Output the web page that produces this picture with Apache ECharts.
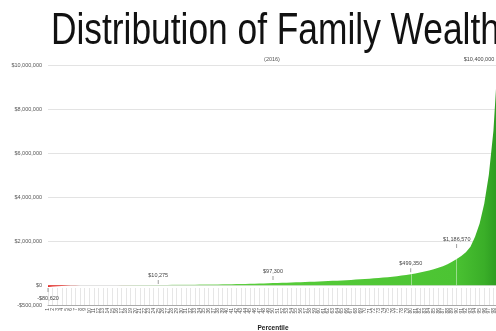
<!DOCTYPE html>
<html>
<head>
<meta charset="utf-8">
<script src="https://cdn.jsdelivr.net/npm/echarts@6/dist/echarts.min.js"></script>
<style>html,body{margin:0;padding:0;background:#fff}#c{width:496px;height:331px}</style>
</head>
<body>
<div id="c"></div>
<script>
const titleText = 'Distribution of Family Wealth';
const subtitleText = '(2016)';
const xAxisName = 'Percentile';
const percentiles = ['1','2','3','4','5','6','7','8','9','10','11','12','13','14','15','16','17','18','19','20',
  '21','22','23','24','25','26','27','28','29','30','31','32','33','34','35','36','37','38','39','40',
  '41','42','43','44','45','46','47','48','49','50','51','52','53','54','55','56','57','58','59','60',
  '61','62','63','64','65','66','67','68','69','70','71','72','73','74','75','76','77','78','79','80',
  '81','82','83','84','85','86','87','88','89','90','91','92','93','94','95','96','97','98','99'];
const wealth = [-80620,-60000,-45000,-33000,-24000,-17000,-12000,-8000,-5000,-2500,
  -800,50,400,850,1400,2000,2700,3400,4200,5000,
  5900,6900,7900,9050,10275,11500,12900,14400,16000,17700,
  19500,21400,23400,25500,27800,30200,32800,35500,38400,41500,
  45000,48800,52900,57300,62000,67500,73500,80500,88500,97300,
  103000,109000,115200,121700,128500,135600,143000,150800,159000,167600,
  176600,186000,196000,206500,217500,229000,241000,254000,267500,282000,
  297000,313000,330000,348000,364000,386000,410000,438000,468000,499350,
  535000,575000,620000,670000,725000,790000,865000,950000,1060000,1186570,
  1320000,1500000,1750000,2200000,2800000,3700000,5000000,7000000,10400000];
const annotatedPercentiles = ['1','25','50','80','90','99'];
const dropLinePercentiles = ['80','90'];
const yTickLabels = ['-$500,000','$0','$2,000,000','$4,000,000','$6,000,000','$8,000,000','$10,000,000'];
const yMin = -900000, yMax = 10000000;

function money(v){
  const s = Math.abs(v).toString().replace(/\B(?=(\d{3})+(?!\d))/g, ',');
  return (v < 0 ? '-$' : '$') + s;
}
function valueAt(p){ return wealth[percentiles.indexOf(p)]; }

const pinStyle = {
  '1':  {symbolOffset:[0,3], label:{position:'bottom', distance:4}},
  '25': {symbolOffset:[0,-3]},
  '50': {symbolOffset:[0,-5]},
  '80': {symbolOffset:[0,-4]},
  '90': {symbolOffset:[0,-13]},
  '99': {symbolSize:0, label:{position:'top', distance:3, offset:[-19,0]}}
};

const markData = annotatedPercentiles.map(p => {
  const v = valueAt(p);
  const st = pinStyle[p] || {};
  return Object.assign({
    name: money(v),
    coord: [p, Math.min(v, yMax)],
  }, st.symbolOffset ? {symbolOffset: st.symbolOffset} : {},
     st.symbolSize !== undefined ? {symbolSize: st.symbolSize} : {},
     st.label ? {label: st.label} : {});
});

const dropData = dropLinePercentiles.map(p => [{coord:[p, valueAt(p)]},{coord:[p, 0]}]);

const chart = echarts.init(document.getElementById('c'));
chart.setOption({
  animation: false,
  backgroundColor: '#fff',
  textStyle: {fontFamily: '"Liberation Sans", Arial, sans-serif'},
  graphic: [
    {type:'text', x:51, y:32, scaleX:0.785, z:10,
     style:{text:titleText, font:'normal 45px "Liberation Sans", Arial, sans-serif', fill:'#111', verticalAlign:'middle'}},
    {type:'text', x:272, y:59, z:10,
     style:{text:subtitleText, font:'normal 5.5px "Liberation Sans", Arial, sans-serif', fill:'#555', align:'center', verticalAlign:'middle'}}
  ],
  grid: {left:48, right:-2, top:65, bottom:26, containLabel:false, outerBoundsMode:'none'},
  xAxis: {
    type:'category', data: percentiles, boundaryGap:false,
    name: xAxisName, nameLocation:'middle', nameGap:20,
    nameTextStyle:{fontSize:6.5, fontWeight:'bold', color:'#222'},
    axisLine:{show:true, onZero:false, lineStyle:{color:'#aaa', width:1}},
    axisTick:{show:true, inside:true, length:17, interval:0, lineStyle:{color:'#e6e6e6', width:1}},
    axisLabel:{show:true, interval:0, rotate:90, fontSize:5, color:'#555', margin:3},
    splitLine:{show:false}
  },
  yAxis: {
    type:'value', min:yMin, max:yMax, splitNumber:5,
    axisLine:{show:false}, axisTick:{show:false},
    axisLabel:{fontSize:5.5, color:'#555', margin:6,
      formatter:(v, i) => yTickLabels[i] !== undefined ? yTickLabels[i] : money(v)},
    splitLine:{show:true, lineStyle:{color:'#e3e3e3', width:1}}
  },
  series: [{
    type:'line', data: wealth, showSymbol:false, smooth:false, clip:false,
    lineStyle:{width:0, opacity:0},
    areaStyle:{opacity:1, color:{type:'linear', x:0, y:0, x2:1, y2:0, colorStops:[
      {offset:0, color:'#e41d18'},
      {offset:0.08, color:'#ef5a50'},
      {offset:0.12, color:'#f1b7b0'},
      {offset:0.2, color:'#9fdf88'},
      {offset:0.45, color:'#58cd3a'},
      {offset:0.9, color:'#4cc433'},
      {offset:0.97, color:'#3aae28'},
      {offset:1, color:'#2b9a20'}]}},
    markLine:{silent:true, symbol:'none', animation:false,
      lineStyle:{color:'rgba(255,255,255,0.55)', width:0.8, type:'solid'},
      label:{show:false}, data: dropData},
    markPoint:{silent:true, animation:false, symbol:'rect', symbolSize:[0.8,4],
      itemStyle:{color:'#888'},
      label:{show:true, position:'top', distance:1.5, fontSize:5.5, color:'#444',
        formatter: d => d.name},
      data: markData}
  }]
});
</script>
</body>
</html>
